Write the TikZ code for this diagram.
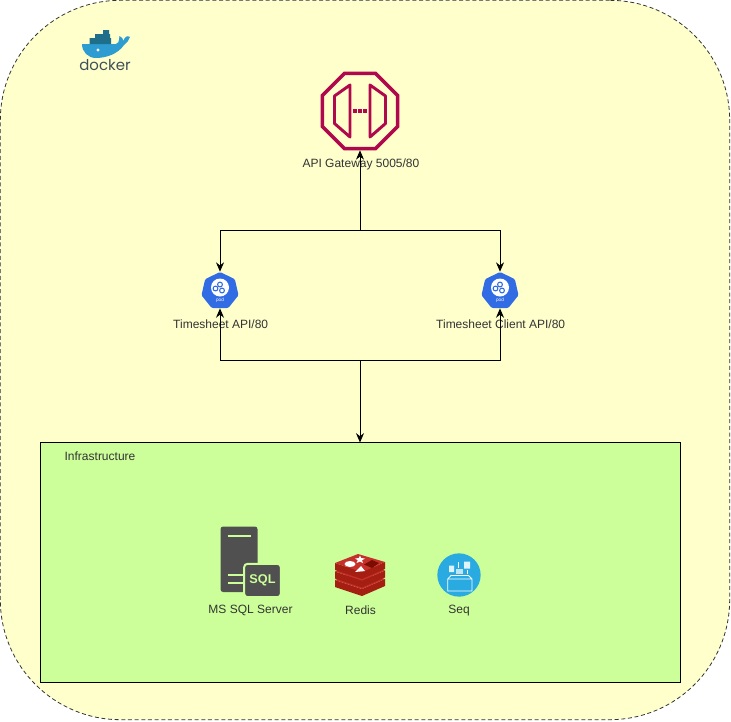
\documentclass[tikz,border=0pt]{standalone}
\usepackage{fontspec}
\setmainfont{Liberation Sans}
\newfontfamily\logofont{Poppins}
\usetikzlibrary{shapes.geometric, arrows.meta, positioning}

\definecolor{hostfill}{HTML}{FFFFCC}
\definecolor{infrafill}{HTML}{CCFF99}
\definecolor{gatewaycolor}{HTML}{B0084D}
\definecolor{kubecolor}{HTML}{326CE5}
\definecolor{sqlcolor}{HTML}{505050}
\definecolor{seqcolor}{HTML}{29ABE2}
\definecolor{whalecolor}{HTML}{2D9CD0}
\definecolor{boxcolor}{HTML}{1F6F8B}
\definecolor{logotext}{HTML}{3F4F57}
\definecolor{redistop}{HTML}{C6302B}
\definecolor{redisside}{HTML}{A41E11}
\definecolor{redisdark}{HTML}{7A0C00}
\definecolor{labelcolor}{HTML}{333333}

\begin{document}
\begin{tikzpicture}[
    x=0.75pt, y=-0.75pt,
    font=\fontsize{9}{11}\selectfont,
    host/.style={rectangle, draw=black!80, fill=hostfill, densely dashed, line width=0.6pt, rounded corners=90pt, minimum width=547pt, minimum height=539.5pt, inner sep=0pt},
    infra/.style={rectangle, draw=black, fill=infrafill, line width=0.75pt, minimum width=480pt, minimum height=180pt, inner sep=0pt, outer sep=0pt},
    gatewayicon/.style={regular polygon, regular polygon sides=8, draw=gatewaycolor, line width=2.6pt, minimum size=61pt, inner sep=0pt},
    kubeicon/.style={regular polygon, regular polygon sides=7, fill=kubecolor, rounded corners=1pt, minimum size=28.5pt, inner sep=0pt},
    caption/.style={text=labelcolor, inner sep=0pt},
    arrow/.style={-{Stealth[length=7pt, width=6pt]}, draw=black, line width=0.75pt}
]
\useasboundingbox (0,0) rectangle (731,721);

% Containers
\node[host] (docker) at (365,360) {};
\node[infra] (infra) at (360,562.5) {};
\node[caption] (infralabel) at (100,456) {Infrastructure};

% Docker logo
\fill[whalecolor] (82,44) -- (116,44) .. controls (118,44) and (119,42) .. (119.5,36)
    .. controls (122,37) and (123,39) .. (123.5,41) .. controls (124.5,37) and (127,35) .. (130,37)
    .. controls (129,40) and (127,43) .. (124,45) .. controls (118,54) and (106,58) .. (96,58)
    .. controls (88,58) and (82,52) .. (82,44) -- cycle;
\fill[boxcolor] (89.5,38) rectangle (111,44) (95,34) rectangle (110,38) (103,30) rectangle (109,34);
\fill[white] (98,50) circle (1.6);
\node[font=\logofont\fontsize{11.2}{12}\selectfont, text=logotext, inner sep=0pt] (dockertext) at (105,65) {docker};

% API gateway
\node[gatewayicon] (gateway) at (360,111) {};
\draw[gatewaycolor, line width=2.2pt, line join=round]
    (350,85) -- (334.5,96) -- (334.5,123.5) -- (350,137) -- cycle
    (370,85) -- (385.5,96) -- (385.5,123.5) -- (370,137) -- cycle;
\foreach \dotx in {355,360,365}
    \fill[gatewaycolor] (\dotx-1.7,109) rectangle (\dotx+1.7,112.5);
\node[caption, below=6.5pt of gateway, xshift=0.7pt] (gatewaylabel) {API Gateway 5005/80};

% Services
\node[kubeicon] (tsapi) at (220,291) {};
\node[kubeicon] (tsclient) at (500,291) {};
\foreach \kube in {tsapi, tsclient} {
    \begin{scope}[shift={(\kube)}]
        \fill[white] (0,-3.5) circle (9);
        \foreach \gx/\gy in {-4.5/-2.5, 0/-6.5, 2/-0.5}
            \draw[kubecolor, line width=0.8pt] (\gx,\gy) circle (2.4);
        \node[text=white, font=\fontsize{3.5}{4}\selectfont, inner sep=0pt] (\kube text) at (0,9.5) {pod};
    \end{scope}
}
\node[caption, below=8pt of tsapi, xshift=0.5pt] (tsapilabel) {Timesheet API/80};
\node[caption, below=8pt of tsclient, xshift=0.5pt] (tsclientlabel) {Timesheet Client API/80};

% SQL server
\fill[sqlcolor, rounded corners=2pt] (220.5,526.5) rectangle (257.5,592);
\draw[infrafill, line width=1.2pt] (227.5,536) -- (250.5,536) (227.5,575) -- (243,575) (227.5,583) -- (243,583);
\node[rectangle, fill=sqlcolor, draw=infrafill, line width=1.5pt, rounded corners=2.5pt, minimum width=27.5pt, minimum height=25pt, inner sep=0pt, text=infrafill, font=\fontsize{9.5}{11}\selectfont\bfseries] (sqlbox) at (262.5,580.5) {SQL};
\node[caption] (sqllabel) at (250.5,610) {MS SQL Server};

% Redis
\foreach \dy in {17,8.5,0} {
    \fill[redisside] (335,563+\dy) -- (362,572+\dy) -- (385,562+\dy) -- (385,569+\dy) -- (362,579+\dy) -- (335,570+\dy) -- cycle;
    \fill[redistop] (335,563+\dy) -- (358,554+\dy) -- (385,562+\dy) -- (362,572+\dy) -- cycle;
}
\fill[white] (350,564) ellipse (5.5 and 3);
\fill[white] (360,555.5) -- (361.2,558) -- (365,558.6) -- (362,560.2) -- (363,563) -- (360,561.5) -- (356.5,563) -- (357.8,560.2) -- (355,558.6) -- (358.8,558) -- cycle;
\fill[white] (355,572) -- (361,566) -- (365,571) -- cycle;
\fill[redisdark] (364,564.5) -- (372,560) -- (379,563) -- (372,568) -- cycle;
\node[caption] (redislabel) at (360.5,610) {Redis};

% Seq
\node[circle, fill=seqcolor, minimum size=32.5pt, inner sep=0pt] (seq) at (459,575) {};
\draw[white, line width=0.6pt] (447.7,579) rectangle (472,591) (447.7,579) -- (451,575.5) -- (468.5,575.5) -- (472,579);
\fill[white!85!seqcolor] (449,565.5) rectangle (454,572) (464,561.5) rectangle (470,568.5);
\fill[white!70!seqcolor] (455.5,569) rectangle (463,574);
\draw[white, line width=0.6pt] (458,562) -- (458,567.5) (467,570) -- (467,574);
\node[caption] (seqlabel) at (459,611) {Seq};

% Arrows
\coordinate (topbus) at (360,230);
\coordinate (lowbus) at (360,360);
\draw[arrow] (topbus) -- (gateway.south);
\draw[arrow] (topbus) -| (tsapi.north);
\draw[arrow] (topbus) -| (tsclient.north);
\draw[arrow] (lowbus) -| (tsapi.south);
\draw[arrow] (lowbus) -| (tsclient.south);
\draw[arrow] (lowbus) -- (infra.north);

\end{tikzpicture}
\end{document}
